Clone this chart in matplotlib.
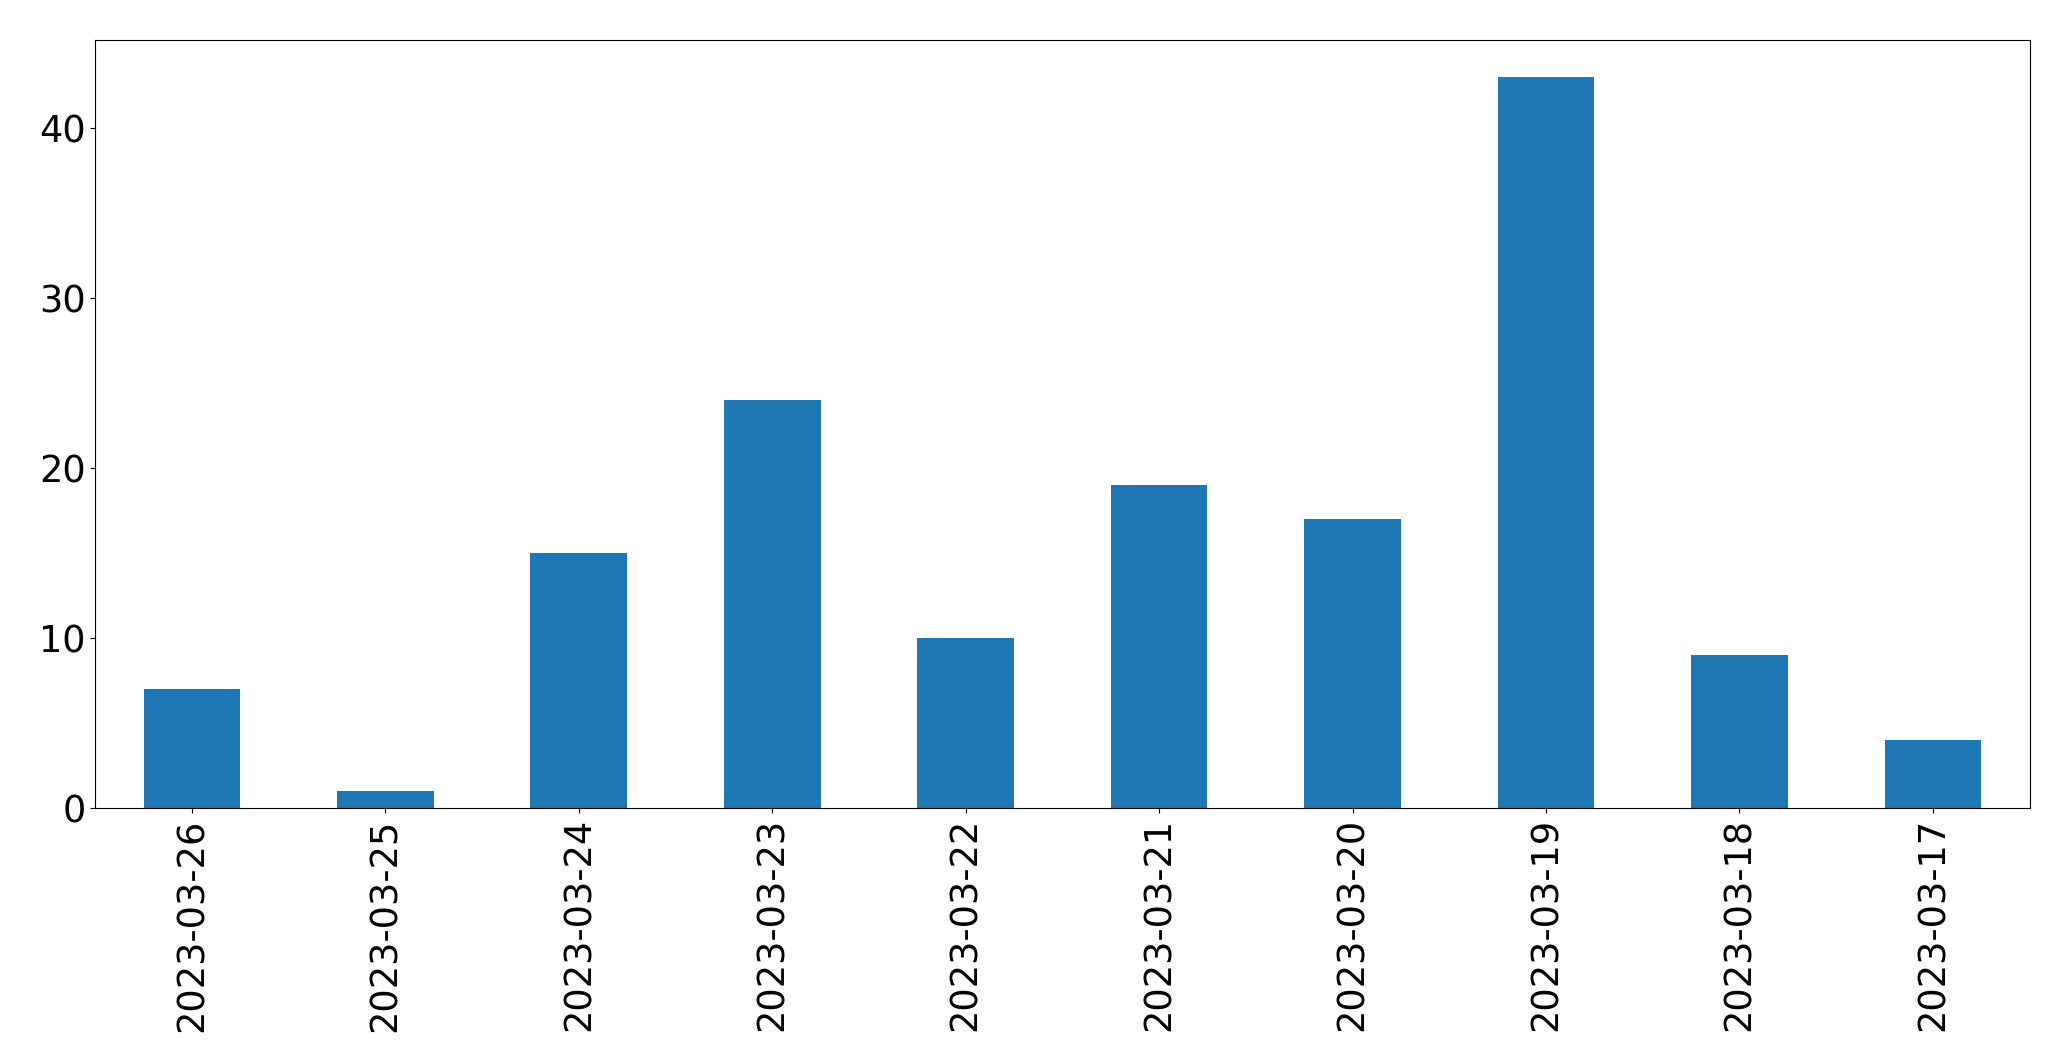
import matplotlib
matplotlib.use("Agg")
import matplotlib.pyplot as plt

dates = ["2023-03-26","2023-03-25","2023-03-24","2023-03-23","2023-03-22",
         "2023-03-21","2023-03-20","2023-03-19","2023-03-18","2023-03-17"]
counts = [7, 1, 15, 24, 10, 19, 17, 43, 9, 4]

fig = plt.figure(figsize=(20.71, 10.61), dpi=100)
ax = fig.add_axes([0.046, 0.238, 0.934, 0.724])
x = range(len(dates))
ax.bar(x, counts, width=0.5, color="#1f77b4")
ax.set_xticks(list(x))
ax.set_xticklabels(dates, rotation=90)
ax.set_xlim(-0.5, len(dates) - 0.5)
ax.tick_params(labelsize=26.5)
fig.savefig("out.png", dpi=100)
